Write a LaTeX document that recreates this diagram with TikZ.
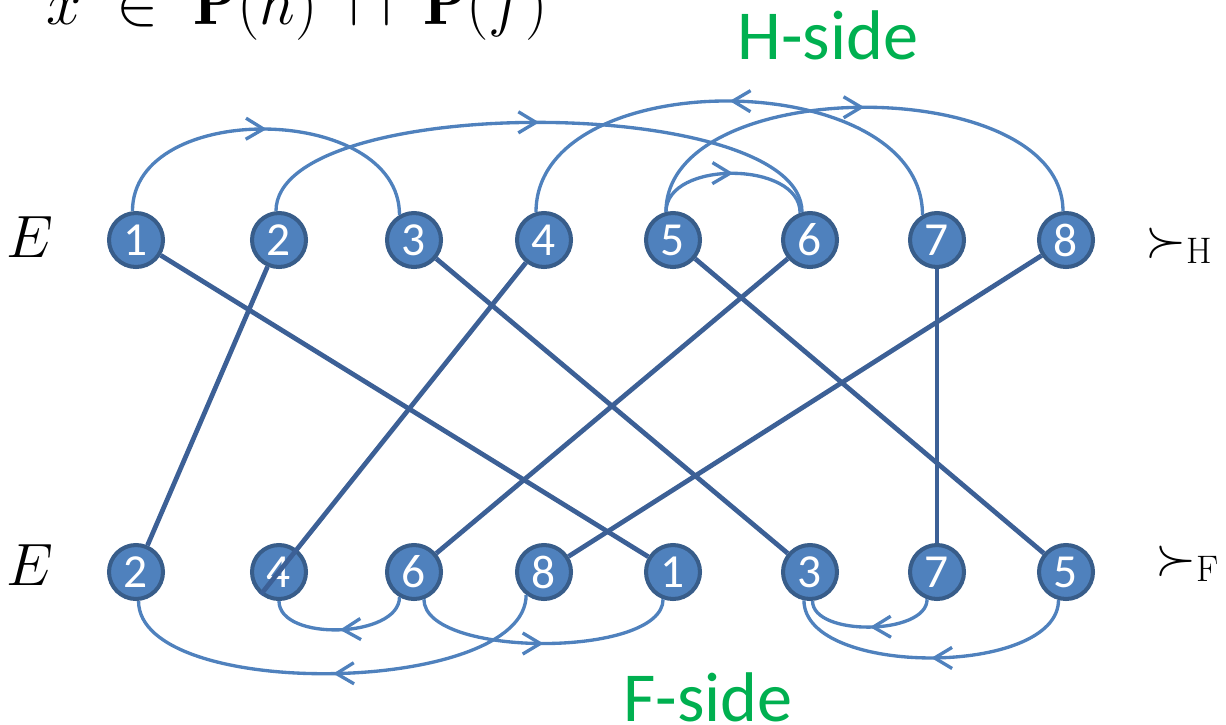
\RequirePackage{fix-cm}
\documentclass[tikz,border=0pt]{standalone}
\usepackage{fontspec}
\usepackage{amsmath,amssymb}
\usepackage{xcolor}
\usepackage{tikz}
\usetikzlibrary{arrows.meta, positioning, calc, decorations.markings}
\newfontfamily\calibri{Carlito}
\definecolor{ndfill}{HTML}{4F81BD}
\definecolor{nddraw}{HTML}{385D8A}
\definecolor{lnk}{HTML}{3C6096}
\definecolor{arccol}{HTML}{4F81BD}
\definecolor{sidegreen}{HTML}{00B050}

\begin{document}
\begin{tikzpicture}[x=0.02cm, y=-0.02cm]
        \tikzstyle{nd} = [circle, minimum size=1.08cm, inner sep=0pt, line width=2.3pt, draw=nddraw, fill=ndfill, text=white, font=\calibri\fontsize{27}{27}\selectfont]
        \tikzstyle{match} = [line width=2.7pt, draw=lnk]
        \tikzstyle{pref} = [line width=1.9pt, color=arccol, postaction={decorate}, decoration={markings, mark=at position 0.5 with {\arrow{Straight Barb[length=10pt, width=12pt]}}}]
        \tikzstyle{side} = [anchor=base, text=sidegreen, font=\calibri\fontsize{40}{40}\selectfont]
        \useasboundingbox (0,0) rectangle (1226,724);

        \node (cond) [anchor=base west, inner sep=0pt, font=\fontsize{36}{40}\selectfont] at (46,24) {$x \;\in\; \mathbf{P}(h) \;\cap\; \mathbf{P}(f)$};

        % the two rows
        \foreach \i/\x in {1/136, 2/279, 3/414, 4/544, 5/673, 6/810, 7/937, 8/1066} { \node (h\i) [nd] at (\x,240) {\i}; }
        \foreach \i/\x in {2/136, 4/279, 6/414, 8/544, 1/673, 3/810, 7/937, 5/1066} { \node (f\i) [nd] at (\x,572) {\i}; }

        \node (eh) [font=\fontsize{34}{38}\selectfont] at (30,237) {$E$};
        \node (ef) [font=\fontsize{34}{38}\selectfont] at (30,565) {$E$};
        \node (prefh) [anchor=base west, inner sep=0pt, font=\fontsize{30}{36}\selectfont] at (1145,256) {$\succ_{\mathrm{H}}$};
        \node (preff) [anchor=base west, inner sep=0pt, font=\fontsize{30}{36}\selectfont] at (1155,574) {$\succ_{\mathrm{F}}$};
        \node (hlab) [side] at (828,59) {H-side};
        \node (flab) [side] at (708,721) {F-side};

        % matching edges
        \foreach \i in {1,2,3,5,6,7,8} { \draw [match] (h\i) -- (f\i); }
        \draw [match] (h4) -- (f4.231);

        % H-side preferences
        \draw [pref] (h1.97) .. controls +(0,-112) and +(0,-112) .. (h3.120);
        \draw [pref] (h2.96) .. controls +(0,-119) and +(0,-119) .. (h6.106);
        \draw [pref] (h7.120) .. controls +(0,-150) and +(0,-150) .. (h4.106);
        \draw [pref] (h5.104) .. controls +(0,-139) and +(0,-139) .. (h8.96);
        \draw [pref] (h5.104) .. controls +(0,-52) and +(0,-52) .. (h6.110);

        % F-side preferences
        \draw [pref] (f6.240) .. controls +(0,41) and +(0,41) .. (f4.270);
        \draw [pref] (f6.290) .. controls +(0,59) and +(0,59) .. (f1.250);
        \draw [pref] (f8.232) .. controls +(0,101) and +(0,101) .. (f2.275);
        \draw [pref] (f7.250) .. controls +(0,36) and +(0,36) .. (f3.275);
        \draw [pref] (f5.255) .. controls +(0,77) and +(0,77) .. (f3.258);
\end{tikzpicture}
\end{document}
